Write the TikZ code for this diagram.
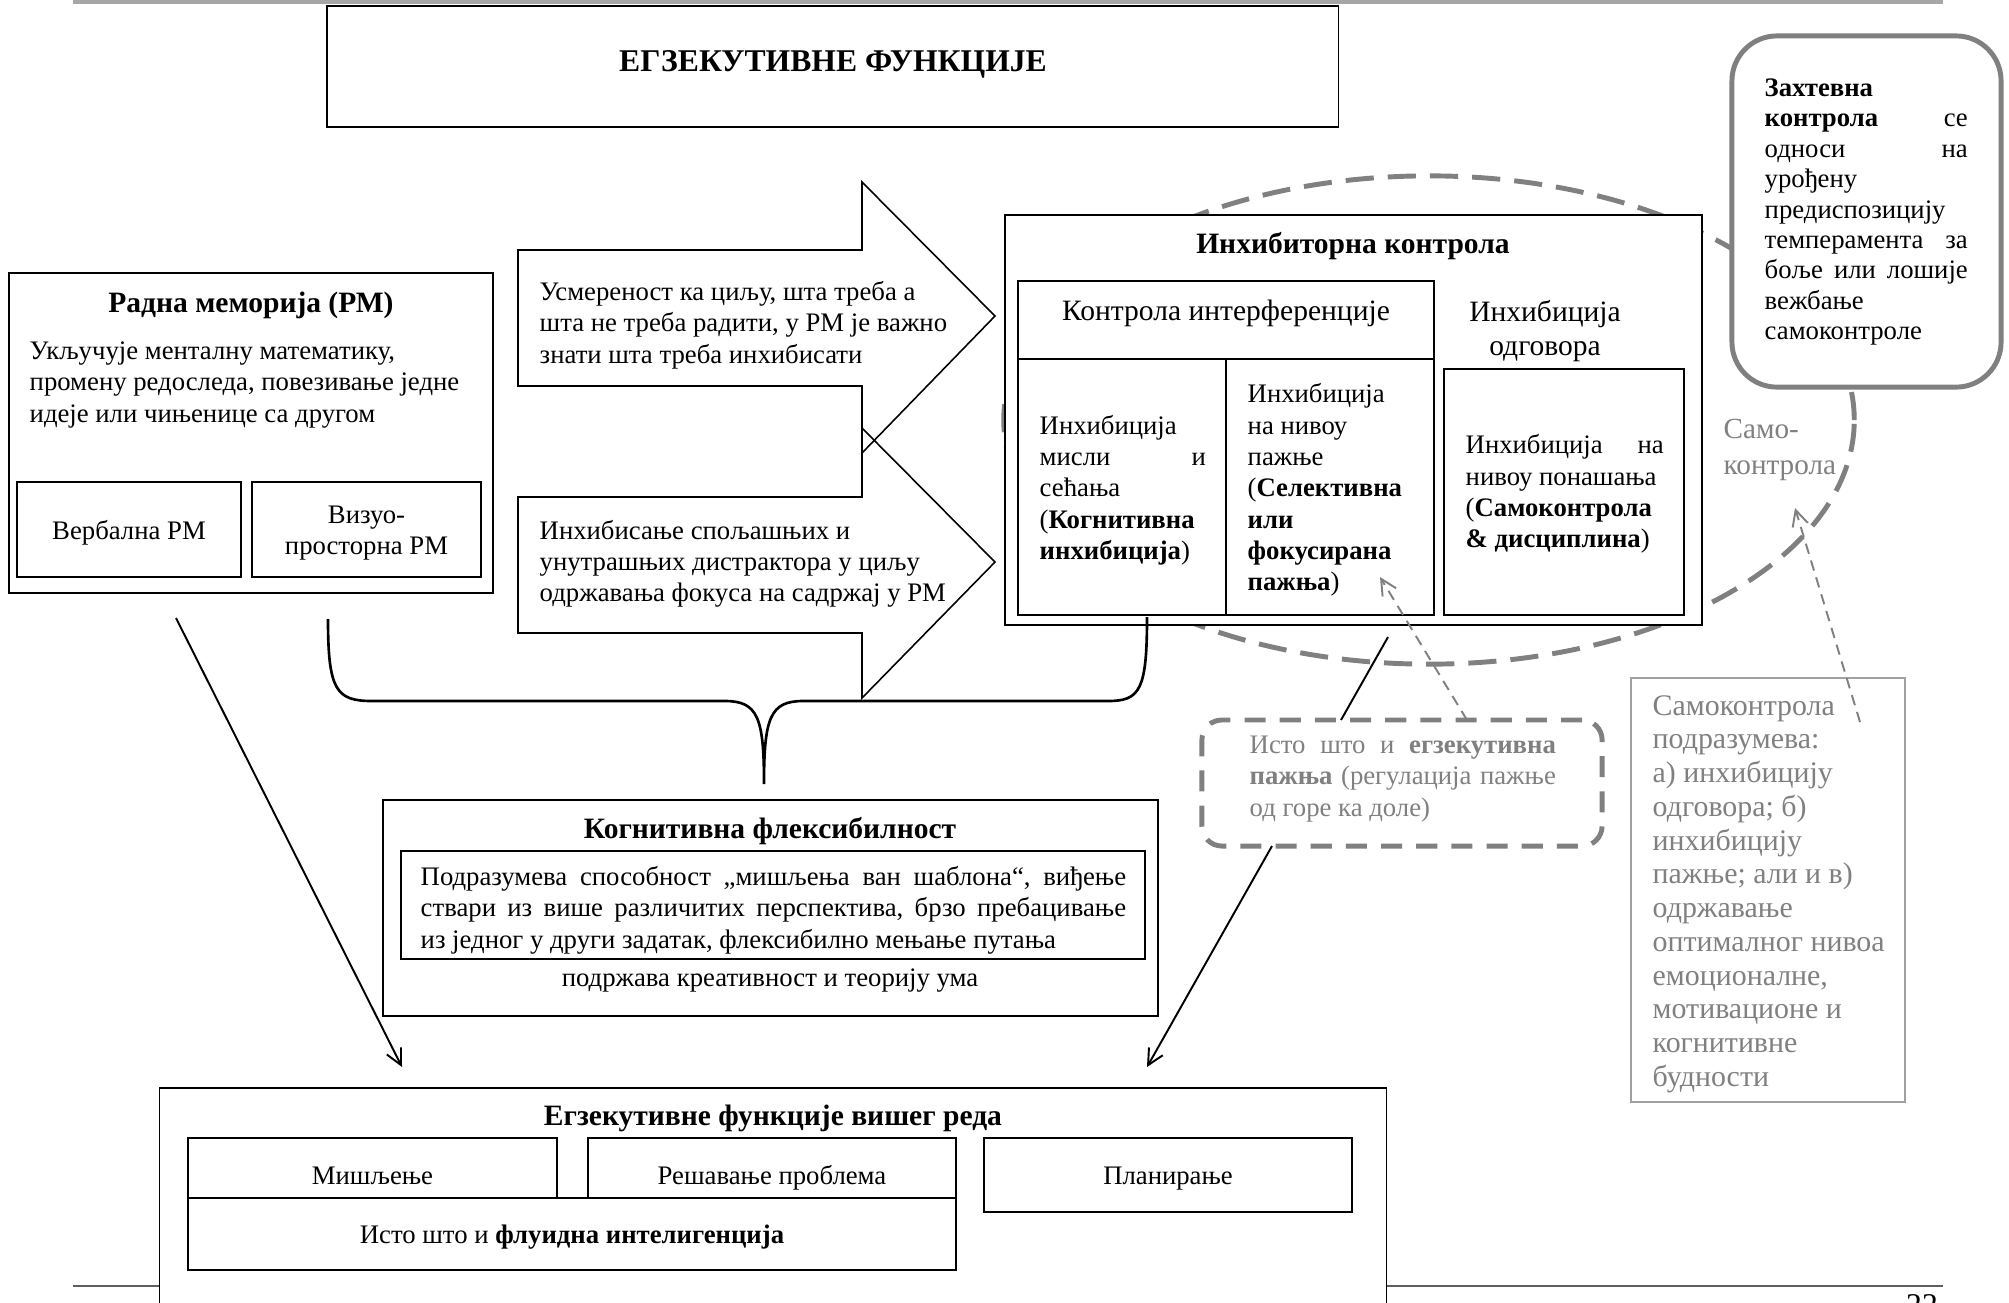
\documentclass[tikz,border=0pt]{standalone}
\usepackage{fontspec}
\setmainfont{Liberation Serif}
\usetikzlibrary{arrows.meta}
\definecolor{dashgray}{RGB}{128,128,128}
\definecolor{txtgray}{RGB}{128,128,128}
\definecolor{boxgray}{RGB}{160,160,160}
\definecolor{rulegray}{RGB}{166,166,166}
\definecolor{footgray}{RGB}{95,95,95}
\newcommand{\bodyfs}{\fontsize{7.6}{8.9}\selectfont}
\newcommand{\headfs}{\fontsize{8.4}{9.6}\selectfont}
\newcommand{\titlefs}{\fontsize{9}{10.5}\selectfont}
\newcommand{\grayfs}{\fontsize{8.5}{9.6}\selectfont}
\newcommand{\labfs}{\fontsize{8.3}{10.2}\selectfont}
\newcommand{\jline}[2]{\hbox to #1{#2}}
\tikzset{
  plainbox/.style={draw, fill=white, inner sep=0pt, line width=0.45pt},
  boxtext/.style={plainbox, font=\bodyfs, text height=7.2pt, text depth=1.6pt},
  bodytext/.style={inner sep=0pt, anchor=west, align=left, font=\bodyfs},
  heading/.style={inner sep=0pt, font=\headfs\bfseries},
  pointer/.style={line width=0.55pt, -{Straight Barb[length=4.5pt,width=4.5pt]}},
  dashptr/.style={draw=dashgray, line width=0.55pt, dash pattern=on 3pt off 2pt, -{Straight Barb[length=4.5pt,width=4.5pt]}},
  thickdash/.style={draw=dashgray, line width=1.4pt, dash pattern=on 8pt off 4pt},
}
\begin{document}
\begin{tikzpicture}[x=0.01cm, y=-0.01cm]
\useasboundingbox (0,0) rectangle (2009,1302);

\draw[rulegray, line width=0.9pt] (73,2) -- (1943,2);
\draw[footgray, line width=0.7pt] (73,1286) -- (1943,1286);
\node[anchor=north, inner sep=0pt, font=\fontsize{9}{10}\selectfont] (pg) at (1922,1294) {22};

\node[plainbox, minimum width=10.11cm, minimum height=1.21cm] (title) at (832.5,66.5) {};
\node[inner sep=0pt, font=\titlefs\bfseries] (title txt) at (833,64) {ЕГЗЕКУТИВНЕ ФУНКЦИЈЕ};

\node[plainbox, minimum width=4.84cm, minimum height=3.20cm] (rm) at (251,433) {};
\node[heading] (rm head) at (251,305) {Радна меморија (РМ)};
\node[bodytext] (rm txt) at (29,385) {Укључује менталну математику,\\промену редоследа, повезивање једне\\идеје или чињенице са другом};
\node[boxtext, minimum width=2.24cm, minimum height=0.95cm] (vrm) at (129,529.5) {Вербална РМ};
\node[plainbox, minimum width=2.29cm, minimum height=0.95cm] (vprm) at (366.5,529.5) {};
\node[inner sep=0pt, font=\bodyfs, align=center] (vprm txt) at (366.5,533) {Визуо-\\просторна РМ};

\draw[line width=0.45pt] (518,250) -- (862,250) -- (862,182) -- (995,316) -- (862,453) -- (862,386) -- (518,386) -- cycle;
\draw[line width=0.45pt] (518,497) -- (862,497) -- (862,428) -- (995,562) -- (862,698) -- (862,633) -- (518,633) -- cycle;
\node[bodytext] (goal txt) at (539,325) {Усмереност ка циљу, шта треба а\\шта не треба радити, у РМ је важно\\знати шта треба инхибисати};
\node[bodytext] (dist txt) at (539,564) {Инхибисање спољашњих и\\унутрашњих дистрактора у циљу\\одржавања фокуса на садржај у РМ};

\draw[thickdash] (1429,420) ellipse [x radius=4.25cm, y radius=2.44cm];

\node[plainbox, minimum width=6.97cm, minimum height=4.10cm] (ic) at (1353.5,420) {};
\node[heading] (ic head) at (1353,246) {Инхибиторна контрола};
\node[plainbox, minimum width=4.16cm, minimum height=0.78cm] (ci) at (1226,320) {};
\node[inner sep=0pt, font=\headfs] (ci txt) at (1226,313) {Контрола интерференције};
\node[plainbox, minimum width=2.08cm, minimum height=2.56cm] (ci a) at (1122,487) {};
\node[plainbox, minimum width=2.08cm, minimum height=2.56cm] (ci b) at (1330,487) {};
\node[inner sep=0pt, font=\headfs, align=center] (ro head) at (1545,331) {Инхибиција\\одговора};
\node[plainbox, minimum width=2.40cm, minimum height=2.46cm] (ro) at (1564,492) {};
\node[bodytext] (ci a txt) at (1039,490) {Инхибиција\\\jline{1.66cm}{мисли\hfill и}\\сећања\\(\textbf{Когнитивна}\\\textbf{инхибиција})};
\node[bodytext] (ci b txt) at (1247,490) {Инхибиција\\на нивоу\\пажње\\(\textbf{Селективна}\\\textbf{или}\\\textbf{фокусирана}\\\textbf{пажња})};
\node[bodytext] (ro txt) at (1465,494) {\jline{1.98cm}{Инхибиција\hfill на}\\нивоу понашања\\(\textbf{Самоконтрола}\\\textbf{\& дисциплина})};

\node[plainbox, draw=dashgray, line width=1.4pt, rounded corners=0.45cm, minimum width=2.69cm, minimum height=3.51cm] (zk) at (1866.5,211.5) {};
\node[bodytext, font=\fontsize{7.6}{8.65}\selectfont] (zk txt) at (1764,212) {\textbf{Захтевна}\\\jline{2.03cm}{\textbf{контрола}\hfill се}\\\jline{2.03cm}{односи\hfill на}\\урођену\\предиспозицију\\\jline{2.03cm}{темперамента\hfill за}\\\jline{2.03cm}{боље \hfill или \hfill лошије}\\вежбање\\самоконтроле};

\node[inner sep=0pt, anchor=west, align=left, font=\labfs, text=txtgray] (sk lab) at (1723,450) {Само-\\контрола};

\node[plainbox, thickdash, dash pattern=on 6pt off 4pt, rounded corners=0.2cm, minimum width=4.00cm, minimum height=1.26cm] (ib) at (1402,783) {};
\node[bodytext, text=txtgray] (ib txt) at (1249,779) {\jline{3.06cm}{Исто \hfill што \hfill и \hfill \textbf{егзекутивна}}\\\jline{3.06cm}{\textbf{пажња} \hfill (регулација \hfill пажње}\\од горе ка доле)};

\node[plainbox, draw=boxgray, minimum width=2.74cm, minimum height=4.24cm] (sb) at (1768,890) {};
\node[inner sep=0pt, anchor=west, align=left, font=\grayfs, text=txtgray] (sb txt) at (1652,894) {Самоконтрола\\подразумева:\\а) инхибицију\\одговора; б)\\инхибицију\\пажње; али и в)\\одржавање\\оптималног нивоа\\емоционалне,\\мотивационе и\\когнитивне\\будности};

\node[plainbox, minimum width=7.75cm, minimum height=2.16cm] (kf) at (770.5,908) {};
\node[heading] (kf head) at (770,831) {Когнитивна флексибилност};
\node[plainbox, minimum width=7.44cm, minimum height=1.08cm] (kf in) at (773,905) {};
\node[bodytext] (kf txt) at (420,910) {\jline{7.05cm}{Подразумева \hfill способност \hfill „мишљења \hfill ван \hfill шаблона“, \hfill виђење}\\\jline{7.05cm}{ствари \hfill из \hfill више \hfill различитих \hfill перспектива, \hfill брзо \hfill пребацивање}\\из једног у други задатак, флексибилно мењање путања};
\node[inner sep=0pt, font=\bodyfs] (kf sub) at (770,981) {подржава креативност и теорију ума};

\node[plainbox, minimum width=12.26cm, minimum height=2.42cm] (ef) at (773,1209) {};
\node[heading] (ef head) at (773,1118) {Егзекутивне функције вишег реда};
\node[boxtext, minimum width=3.69cm, minimum height=0.74cm] (ms) at (372.5,1175) {Мишљење};
\node[boxtext, minimum width=3.68cm, minimum height=0.74cm] (rp) at (772,1175) {Решавање проблема};
\node[boxtext, minimum width=3.68cm, minimum height=0.74cm] (pl) at (1168,1175) {Планирање};
\node[boxtext, minimum width=7.68cm, minimum height=0.72cm] (fi) at (572,1234) {Исто што и \textbf{флуидна интелигенција}};

\coordinate (br l) at (328,619);
\coordinate (br m) at (764,784);
\coordinate (br r) at (1147,617);
\draw[line width=0.75pt] (br l) .. controls (328,690) and (336,701) .. (372,701) -- (725,701) .. controls (758,701) and (764,718) .. (br m) .. controls (764,718) and (770,701) .. (803,701) -- (1108,701) .. controls (1140,701) and (1147,690) .. (br r);

\coordinate (rm out) at (176,618);
\coordinate (ef in l) at (402,1067);
\draw[pointer] (rm out) -- (ef in l);
\coordinate (ic out) at (1388,637);
\coordinate (ib in) at (1341,720);
\draw[line width=0.55pt] (ic out) -- (ib in);
\coordinate (ib out) at (1272,846);
\coordinate (ef in r) at (1147,1067);
\draw[pointer] (ib out) -- (ef in r);
\coordinate (ib top) at (1467,720);
\coordinate (sel tip) at (1380,577);
\draw[dashptr] (ib top) -- (sel tip);
\coordinate (sb in) at (1860,722);
\coordinate (sk tip) at (1795,508);
\draw[dashptr] (sb in) -- (sk tip);
\end{tikzpicture}
\end{document}
